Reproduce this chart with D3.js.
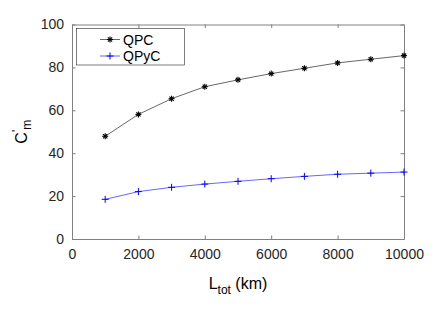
<!DOCTYPE html>
<html lang="en">
<head>
    <meta charset="UTF-8">
    <script src="https://d3js.org/d3.v7.min.js"></script>
    <title>QPC vs QPyC</title>
    <style>
        body { margin: 0; background: white; }
        text { font-family: "Liberation Sans", Arial, sans-serif; }
    </style>
</head>
<body>
    <div class="fig"></div>

    <script>
        // values
        const L_tot = [1000, 2000, 3000, 4000, 5000, 6000, 7000, 8000, 9000, 10000];
        const qpc = [47.9, 58.1, 65.4, 71.0, 74.2, 77.1, 79.6, 82.1, 83.8, 85.5];
        const qpyc = [18.5, 22.1, 24.1, 25.6, 26.9, 28.1, 29.2, 30.2, 30.7, 31.2];
        const xTicks = [0, 2000, 4000, 6000, 8000, 10000];
        const yTicks = [0, 20, 40, 60, 80, 100];
        const seriesNames = ["QPC", "QPyC"];

        const width = 436, height = 327;
        const m = { left: 72, right: 32, top: 24.5, bottom: 88 };

        const svg = d3.select(".fig").append("svg")
            .attr("width", width)
            .attr("height", height);

        const x = d3.scaleLinear().domain([0, 10000]).range([m.left, width - m.right]);
        const y = d3.scaleLinear().domain([0, 100]).range([height - m.bottom, m.top]);

        const axisCol = "#808080", textCol = "#262626";
        const tickLen = 3.5;
        const fmt = d3.format("d");

        // box + ticks (matlab style, ticks inside)
        const xAxis = d3.axisBottom(x).tickValues(xTicks).tickFormat(fmt).tickSizeInner(-tickLen).tickSizeOuter(0).tickPadding(10);
        const yAxis = d3.axisLeft(y).tickValues(yTicks).tickFormat(fmt).tickSizeInner(-tickLen).tickSizeOuter(0).tickPadding(8);

        const gx = svg.append("g").attr("transform", `translate(0,${y(0)})`).call(xAxis);
        const gy = svg.append("g").attr("transform", `translate(${x(0)},0)`).call(yAxis);
        const gxt = svg.append("g").attr("transform", `translate(0,${y(100)})`)
            .call(d3.axisTop(x).tickValues(xTicks).tickSizeInner(-tickLen).tickSizeOuter(0).tickFormat(""));
        const gyr = svg.append("g").attr("transform", `translate(${x(10000)},0)`)
            .call(d3.axisRight(y).tickValues(yTicks).tickSizeInner(-tickLen).tickSizeOuter(0).tickFormat(""));

        [gx, gy, gxt, gyr].forEach(g => {
            g.select(".domain").attr("stroke", axisCol).attr("stroke-width", 1);
            g.selectAll(".tick line").attr("stroke", axisCol);
            g.selectAll(".tick text").attr("fill", textCol).style("font-size", "14px")
                .style("font-family", "'Liberation Sans', Arial, sans-serif");
        });

        // lines
        const line = d3.line().x((d, i) => x(L_tot[i])).y(d => y(d));

        svg.append("path").datum(qpc)
            .attr("d", line).attr("fill", "none").attr("stroke", "black").attr("stroke-width", 0.6);
        svg.append("path").datum(qpyc)
            .attr("d", line).attr("fill", "none").attr("stroke", "blue").attr("stroke-width", 0.6);

        // star markers
        const star = (g, cx, cy, col) => {
            const r = 3;
            [[r, 0], [0, r], [r * 0.7, r * 0.7], [r * 0.7, -r * 0.7]].forEach(([dx, dy]) => {
                g.append("line")
                    .attr("x1", cx - dx).attr("y1", cy - dy)
                    .attr("x2", cx + dx).attr("y2", cy + dy)
                    .attr("stroke", col).attr("stroke-width", 1.1);
            });
        };
        const plus = (g, cx, cy, col) => {
            const r = 3.5;
            g.append("line").attr("x1", cx - r).attr("y1", cy).attr("x2", cx + r).attr("y2", cy)
                .attr("stroke", col).attr("stroke-width", 1);
            g.append("line").attr("x1", cx).attr("y1", cy - r).attr("x2", cx).attr("y2", cy + r)
                .attr("stroke", col).attr("stroke-width", 1);
        };

        const mk = svg.append("g");
        qpc.forEach((v, i) => star(mk, x(L_tot[i]), y(v), "black"));
        qpyc.forEach((v, i) => plus(mk, x(L_tot[i]), y(v), "blue"));

        // legend
        const leg = svg.append("g");
        leg.append("rect")
            .attr("x", 76.5).attr("y", 28.5).attr("width", 108).attr("height", 36.5)
            .attr("fill", "white").attr("stroke", "#262626").attr("stroke-width", 0.6);
        const legCols = ["black", "blue"];
        seriesNames.forEach((name, i) => {
            const ly = 39.5 + i * 16.5;
            leg.append("line").attr("x1", 100).attr("x2", 120).attr("y1", ly).attr("y2", ly)
                .attr("stroke", legCols[i]).attr("stroke-width", 0.6);
            if (i === 0) star(leg, 110, ly, legCols[i]); else plus(leg, 110, ly, legCols[i]);
            leg.append("text").attr("x", 123).attr("y", ly + 5)
                .attr("fill", "black").style("font-size", "14px").text(name);
        });

        // axis labels
        const xl = svg.append("text")
            .attr("x", (x(0) + x(10000)) / 2).attr("y", 289)
            .attr("text-anchor", "middle").attr("fill", "black").style("font-size", "16px");
        xl.append("tspan").text("L");
        xl.append("tspan").attr("dy", 5).style("font-size", "12px").text("tot");
        xl.append("tspan").attr("dy", -5).text(" (km)");

        const yl = svg.append("text")
            .attr("transform", `translate(27,${(y(0) + y(100)) / 2}) rotate(-90)`)
            .attr("text-anchor", "middle").attr("fill", "black").style("font-size", "16px");
        yl.append("tspan").text("C");
        yl.append("tspan").attr("dy", -6).style("font-size", "12px").text("'");
        yl.append("tspan").attr("dy", 10).style("font-size", "12px").text("m");
    </script>
</body>
</html>
